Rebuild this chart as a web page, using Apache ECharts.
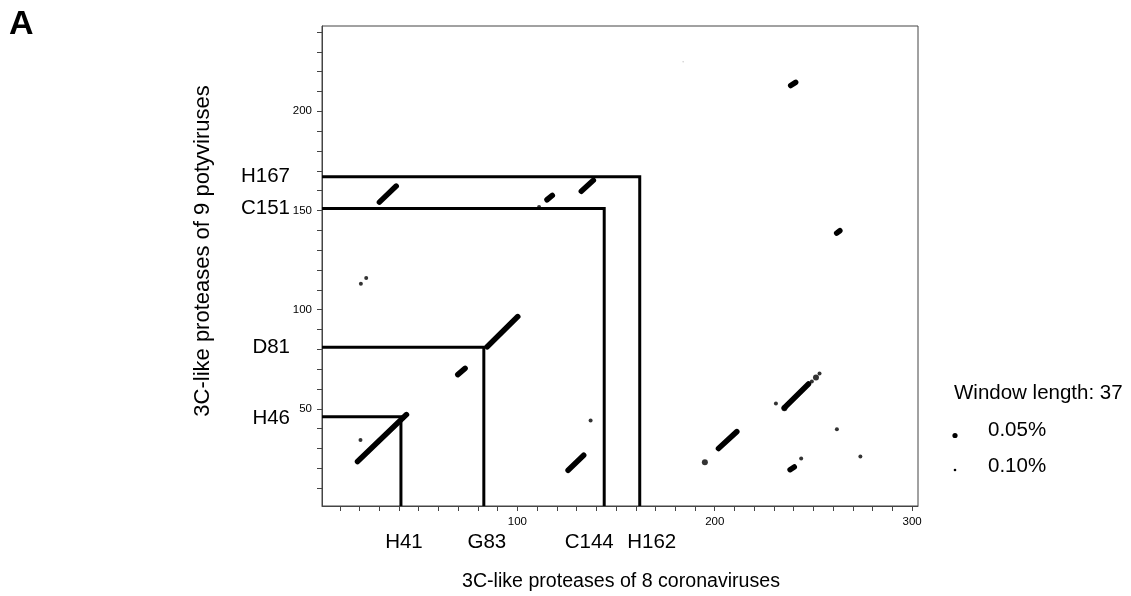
<!DOCTYPE html>
<html style="height: 100%;width: 100%">
<head>
    <meta charset="UTF-8">
    <script type="text/javascript" src="https://cdn.jsdelivr.net/npm/echarts@6/dist/echarts.min.js"></script>
    <title>3C-like protease dot plot</title>
    <style>
        html, body { margin: 0; padding: 0; background: #fff; }
        #main { width: 1131px; height: 596px; }
    </style>
</head>
<body>
<div id="main"></div>
<script type="text/javascript">
    // axis ranges (residue numbers)
    var xRange = [1, 303];
    var yRange = [1, 243];
    var xTicks = [10, 20, 30, 40, 50, 60, 70, 80, 90, 100, 110, 120, 130, 140, 150, 160, 170, 180, 190, 200,
                  210, 220, 230, 240, 250, 260, 270, 280, 290, 300];
    var yTicks = [10, 20, 30, 40, 50, 60, 70, 80, 90, 100, 110, 120, 130, 140, 150, 160, 170, 180, 190, 200,
                  210, 220, 230, 240];
    var xTickLabels = [100, 200, 300];
    var yTickLabels = [50, 100, 150, 200];

    // catalytic residues: coronavirus (x) vs potyvirus (y)
    var xResidues = ['H41', 'G83', 'C144', 'H162'];
    var xResidueNum = [41, 83, 144, 162];
    var yResidues = ['H46', 'D81', 'C151', 'H167'];
    var yResidueNum = [46, 81, 151, 167];

    // diagonal runs at 0.05% : [x1, y1, x2, y2]
    var runs005 = [
        [19.0, 23.4, 43.8, 47.1],
        [69.8, 67.2, 73.5, 70.4],
        [84.7, 81.3, 100.2, 96.5],
        [125.7, 19.0, 133.6, 26.6],
        [30.1, 154.2, 38.6, 162.3],
        [115.0, 155.4, 117.7, 157.6],
        [132.4, 159.7, 138.5, 165.2],
        [238.5, 213.0, 241.0, 214.6],
        [261.8, 138.6, 263.4, 139.8],
        [235.3, 50.5, 247.5, 62.5],
        [201.9, 30.0, 211.2, 38.5],
        [238.2, 19.3, 240.3, 20.7]
    ];
    // single dots at 0.05%
    var dots005 = [[195.0, 23.1], [251.3, 65.8], [235.3, 50.3]];
    // single dots at 0.10%
    var dots010 = [
        [20.5, 34.3], [137.1, 44.1], [20.7, 113.0], [23.4, 116.0], [111.0, 151.8],
        [231.0, 52.7], [243.8, 24.9], [261.9, 39.7], [273.8, 25.9], [249.2, 63.8], [253.1, 67.8]
    ];
    // faint speck
    var specks = [[184.0, 225.0]];

    var FONT = '"Liberation Sans", Arial, Helvetica, sans-serif';
    var bigDot = 6, smallDot = 4, runWidth = 5.5;

    var myChart = echarts.init(document.getElementById('main'));

    var series = [];
    // residue boxes (L shapes)
    for (var i = 0; i < xResidueNum.length; i++) {
        series.push({
            type: 'line',
            data: [[xRange[0], yResidueNum[i]], [xResidueNum[i], yResidueNum[i]], [xResidueNum[i], yRange[0]]],
            showSymbol: false,
            symbol: 'none',
            silent: true,
            lineStyle: { color: '#000', width: 3, join: 'miter' },
            z: 2
        });
    }
    runs005.forEach(function (r) {
        series.push({
            name: '0.05%',
            type: 'line',
            data: [[r[0], r[1]], [r[2], r[3]]],
            symbol: 'none',
            lineStyle: { color: '#000', width: runWidth, cap: 'round' },
            z: 3
        });
    });
    series.push({
        name: '0.05%', type: 'scatter', data: dots005,
        symbolSize: bigDot, itemStyle: { color: '#000' }, z: 3
    });
    series.push({
        name: '0.10%', type: 'scatter', data: dots010,
        symbolSize: smallDot, itemStyle: { color: '#000' }, z: 3
    });
    series.push({
        type: 'scatter', data: specks, silent: true,
        symbolSize: 1.5, itemStyle: { color: '#bbb' }, z: 3
    });

    var option = {
        animation: false,
        backgroundColor: '#fff',
        textStyle: { fontFamily: FONT },
        grid: {
            left: 322, top: 26, right: 213, bottom: 90,
            show: true, borderColor: '#444', borderWidth: 1, backgroundColor: 'transparent'
        },
        xAxis: {
            type: 'value', min: xRange[0], max: xRange[1],
            axisLine: { show: true, onZero: false, lineStyle: { color: '#444', width: 1 } },
            axisTick: { show: true, customValues: xTicks, length: 5, lineStyle: { color: '#444' } },
            axisLabel: { customValues: xTickLabels, fontSize: 11.5, color: '#000', margin: 10, fontFamily: FONT },
            splitLine: { show: false }
        },
        yAxis: {
            type: 'value', min: yRange[0], max: yRange[1],
            axisLine: { show: true, onZero: false, lineStyle: { color: '#444', width: 1 } },
            axisTick: { show: true, customValues: yTicks, length: 5, lineStyle: { color: '#444' } },
            axisLabel: { customValues: yTickLabels, fontSize: 11.5, color: '#000', margin: 10, fontFamily: FONT },
            splitLine: { show: false }
        },
        series: series
    };

    myChart.setOption(option);

    // residue labels, titles and legend
    var graphics = [];
    var xNudge = [3, 3, -15, 12];
    for (var j = 0; j < xResidues.length; j++) {
        var px = myChart.convertToPixel({ xAxisIndex: 0 }, xResidueNum[j]);
        graphics.push({
            type: 'text', x: px + xNudge[j], y: 542,
            style: { text: xResidues[j], font: '20.5px ' + FONT, fill: '#000', textAlign: 'center', textVerticalAlign: 'middle' }
        });
    }
    for (var k = 0; k < yResidues.length; k++) {
        var py = myChart.convertToPixel({ yAxisIndex: 0 }, yResidueNum[k]);
        graphics.push({
            type: 'text', x: 290, y: py + (k === 0 ? 2 : 0),
            style: { text: yResidues[k], font: '20.5px ' + FONT, fill: '#000', textAlign: 'right', textVerticalAlign: 'middle' }
        });
    }
    // axis titles
    graphics.push({
        type: 'text', x: 621, y: 582,
        style: { text: '3C-like proteases of 8 coronaviruses', font: '19.6px ' + FONT, fill: '#000', textAlign: 'center', textVerticalAlign: 'middle' }
    });
    graphics.push({
        type: 'text', x: 203, y: 251, rotation: Math.PI / 2,
        style: { text: '3C-like proteases of 9 potyviruses', font: '22px ' + FONT, fill: '#000', textAlign: 'center', textVerticalAlign: 'middle' }
    });
    graphics.push({
        type: 'text', x: 9, y: 25,
        style: { text: 'A', font: 'bold 34px ' + FONT, fill: '#000', textAlign: 'left', textVerticalAlign: 'middle' }
    });
    graphics.push({
        type: 'text', x: 954, y: 393,
        style: { text: 'Window length: 37', font: '20.5px ' + FONT, fill: '#000', textAlign: 'left', textVerticalAlign: 'middle' }
    });
    graphics.push({ type: 'circle', shape: { cx: 955, cy: 435.5, r: 2.6 }, style: { fill: '#000' } });
    graphics.push({
        type: 'text', x: 988, y: 430,
        style: { text: '0.05%', font: '20.5px ' + FONT, fill: '#000', textAlign: 'left', textVerticalAlign: 'middle' }
    });
    graphics.push({ type: 'circle', shape: { cx: 955, cy: 470, r: 1.3 }, style: { fill: '#000' } });
    graphics.push({
        type: 'text', x: 988, y: 466,
        style: { text: '0.10%', font: '20.5px ' + FONT, fill: '#000', textAlign: 'left', textVerticalAlign: 'middle' }
    });
    myChart.setOption({ graphic: graphics });
</script>
</body>
</html>
